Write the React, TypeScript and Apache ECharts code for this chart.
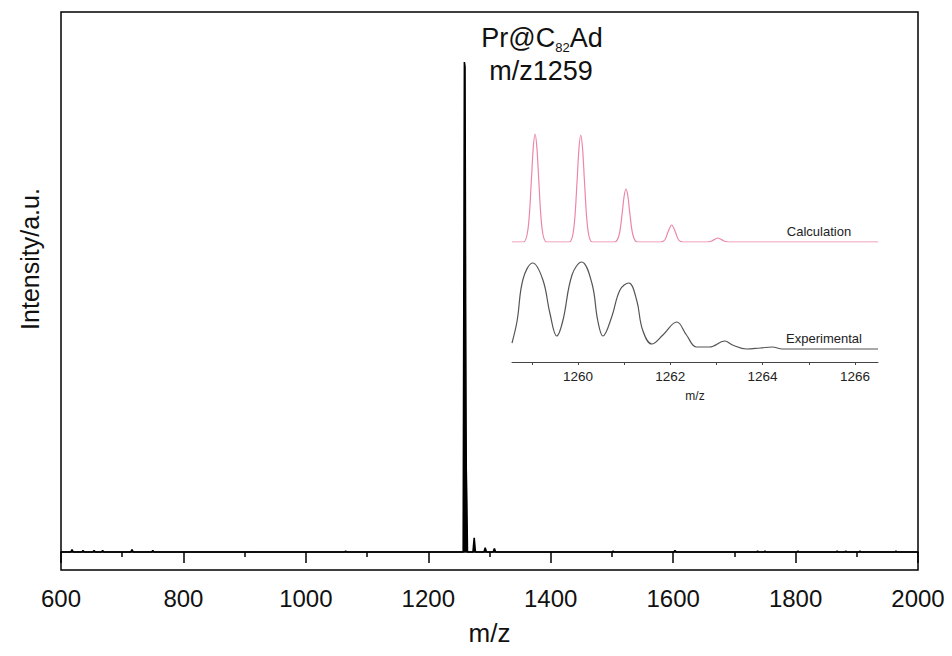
import React, { useEffect, useRef } from "react";
import * as echarts from "echarts";

// Main spectrum (m/z, relative intensity; 100 = base peak)
const mainMz = [600, 616, 618, 620, 634, 636, 638, 652, 654, 656, 666, 668, 670, 714, 716, 718, 748, 750, 752, 1063, 1065, 1067, 1257, 1258, 1259, 1260, 1261, 1262, 1263, 1264, 1273, 1275, 1277, 1291, 1293, 1295, 1306, 1308, 1310, 1500, 1502, 1504, 1601, 1603, 1605, 1736, 1738, 1740, 1748, 1750, 1752, 1802, 1804, 1806, 1866, 1868, 1870, 1880, 1882, 1884, 1903, 1905, 1907, 1962, 1964, 1966, 2000];
const mainIntensity = [0, 0, 0.5, 0, 0, 0.3, 0, 0, 0.3, 0, 0, 0.3, 0, 0, 0.5, 0, 0, 0.3, 0, 0, 0.2, 0, 0, 0, 100, 99, 50, 17, 10, 0, 0, 2.9, 0, 0, 0.9, 0, 0, 0.7, 0, 0, 0.2, 0, 0, 0.3, 0, 0, 0.2, 0, 0, 0.2, 0, 0, 0.2, 0, 0, 0.2, 0, 0, 0.2, 0, 0, 0.2, 0, 0, 0.2, 0, 0];

// Inset: calculated isotope pattern
const calcMz = [1258.57, 1258.82, 1258.92, 1258.99, 1259.03, 1259.07, 1259.11, 1259.15, 1259.22, 1259.32, 1259.81, 1259.91, 1259.98, 1260.02, 1260.06, 1260.1, 1260.14, 1260.21, 1260.31, 1260.79, 1260.89, 1260.96, 1261.0, 1261.04, 1261.08, 1261.12, 1261.19, 1261.29, 1261.78, 1261.88, 1261.95, 1262.03, 1262.11, 1262.18, 1262.28, 1262.78, 1262.9, 1263.03, 1263.16, 1263.28, 1266.5];
const calcIntensity = [0, 0, 14, 62, 94, 108, 94, 62, 14, 0, 0, 14, 61, 93, 107, 93, 61, 14, 0, 0, 7, 30, 46, 53, 46, 30, 7, 0, 0, 2, 10, 17, 10, 2, 0, 0, 1, 4, 1, 0, 0];

// Inset: experimental isotope pattern
const expMz = [1258.57, 1258.68, 1258.81, 1259.02, 1259.24, 1259.39, 1259.54, 1259.67, 1259.87, 1260.08, 1260.3, 1260.43, 1260.54, 1260.73, 1260.91, 1261.1, 1261.27, 1261.4, 1261.6, 1261.84, 1262.14, 1262.35, 1262.57, 1262.85, 1263.18, 1263.35, 1263.65, 1263.95, 1264.21, 1264.43, 1266.5];
const expIntensity = [6, 28, 70, 86, 69, 36, 13, 28, 74, 87, 66, 28, 13, 32, 59, 66, 49, 19, 5, 14, 27, 14, 2, 2, 8, 4, 0, 1, 2, 0, 0];

const insetTickValues = [1259, 1260, 1261, 1262, 1263, 1264, 1265, 1266];
const insetLabelValues = [1260, 1262, 1264, 1266];

const FONT = "'Liberation Sans', Arial, Helvetica, sans-serif";

export default function App() {
  const ref = useRef<HTMLDivElement>(null);
  useEffect(() => {
    if (!ref.current) return;
    const chart = echarts.init(ref.current, null, { renderer: "svg" });
    const hidden = { show: false };
    chart.setOption({
      animation: false,
      backgroundColor: "#fff",
      textStyle: { fontFamily: FONT },
      grid: [
        { left: 61, right: 34, top: 12, bottom: 86, show: true, borderColor: "#000", borderWidth: 1.5, backgroundColor: "transparent" },
        { left: 512, right: 74, top: 132, bottom: 414 },
        { left: 512, right: 74, top: 249, bottom: 294 },
      ],
      xAxis: [
        {
          gridIndex: 0,
          type: "value",
          min: 600,
          max: 2000,
          interval: 200,
          name: "m/z",
          nameLocation: "middle",
          nameGap: 50,
          nameTextStyle: { fontSize: 26, color: "#111", fontFamily: FONT },
          axisLine: { show: true, lineStyle: { color: "#000", width: 1.5 } },
          axisTick: { show: true, length: 11, lineStyle: { color: "#000", width: 1.5 } },
          minorTick: { show: true, splitNumber: 2, length: 5, lineStyle: { color: "#000", width: 1.5 } },
          axisLabel: { fontSize: 24, color: "#111", margin: 16, fontFamily: FONT, formatter: (v: number) => String(v) },
          splitLine: { show: false },
        },
        { gridIndex: 1, type: "value", min: 1258.57, max: 1266.5, ...hidden },
        {
          gridIndex: 2,
          type: "value",
          min: 1258.57,
          max: 1266.5,
          name: "m/z",
          nameLocation: "middle",
          nameGap: 28,
          nameTextStyle: { fontSize: 12, color: "#222", fontFamily: FONT },
          axisLine: { show: true, onZero: false, lineStyle: { color: "#444", width: 1 } },
          axisTick: { show: true, length: 3, customValues: insetTickValues, lineStyle: { color: "#444", width: 1 } },
          axisLabel: { fontSize: 13.5, color: "#222", margin: 7, customValues: insetLabelValues, fontFamily: FONT, formatter: (v: number) => String(v) },
          splitLine: { show: false },
        },
      ],
      yAxis: [
        {
          gridIndex: 0,
          type: "value",
          min: -3.673,
          max: 110.2,
          name: "Intensity/a.u.",
          nameLocation: "middle",
          nameGap: 19,
          nameTextStyle: { fontSize: 25, color: "#111", fontFamily: FONT, padding: [0, 0, 0, 64] },
          axisLine: { show: false },
          axisTick: { show: false },
          axisLabel: { show: false },
          splitLine: { show: false },
        },
        { gridIndex: 1, type: "value", min: 0, max: 110, ...hidden },
        { gridIndex: 2, type: "value", min: -13, max: 100, ...hidden },
      ],
      series: [
        {
          type: "line",
          xAxisIndex: 0,
          yAxisIndex: 0,
          data: mainMz.map((m, i) => [m, mainIntensity[i]]),
          showSymbol: false,
          lineStyle: { color: "#000", width: 1.6 },
          areaStyle: { color: "#000", opacity: 1 },
          silent: true,
        },
        {
          type: "line",
          xAxisIndex: 1,
          yAxisIndex: 1,
          data: calcMz.map((m, i) => [m, calcIntensity[i]]),
          showSymbol: false,
          smooth: 0.3,
          lineStyle: { color: "#ec86a8", width: 1.2 },
          silent: true,
        },
        {
          type: "line",
          xAxisIndex: 2,
          yAxisIndex: 2,
          data: expMz.map((m, i) => [m, expIntensity[i]]),
          showSymbol: false,
          smooth: 0.4,
          lineStyle: { color: "#555", width: 1.2 },
          silent: true,
        },
      ],
      graphic: [
        {
          type: "text",
          x: 542,
          y: 38,
          style: {
            text: "{a|Pr@C}{s|82}{a|Ad}",
            align: "center",
            verticalAlign: "middle",
            rich: {
              a: { fontSize: 27, fontFamily: FONT, fill: "#111", lineHeight: 32 },
              s: { fontSize: 13, fontFamily: FONT, fill: "#111", lineHeight: 6, verticalAlign: "bottom" },
            },
          },
        },
        {
          type: "text",
          x: 541,
          y: 71,
          style: { text: "m/z1259", fontSize: 27, fontFamily: FONT, fill: "#111", align: "center", verticalAlign: "middle" },
        },
        {
          type: "text",
          x: 819,
          y: 231,
          style: { text: "Calculation", fontSize: 13, fontFamily: FONT, fill: "#222", align: "center", verticalAlign: "middle" },
        },
        {
          type: "text",
          x: 824,
          y: 338,
          style: { text: "Experimental", fontSize: 13, fontFamily: FONT, fill: "#222", align: "center", verticalAlign: "middle" },
        },
      ],
    });
    return () => chart.dispose();
  }, []);
  return <div ref={ref} style={{ width: 952, height: 656, position: "absolute", left: 0, top: 0 }} />;
}
